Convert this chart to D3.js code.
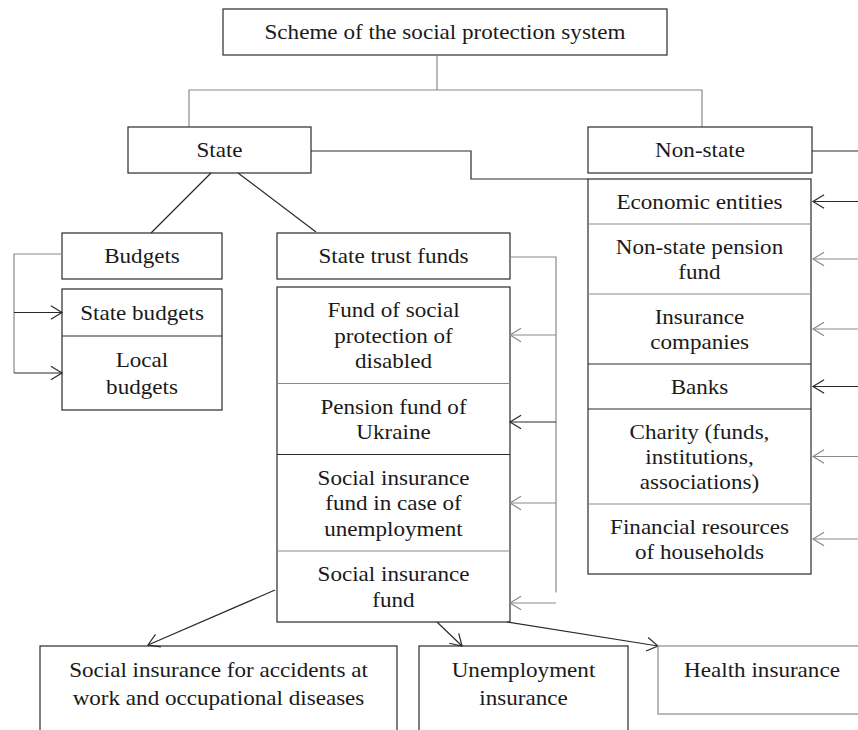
<!DOCTYPE html>
<html>
<head>
<meta charset="utf-8">
<script src="https://cdn.jsdelivr.net/npm/d3@7"></script>
<style>
  body { margin: 0; background: #fff; }
  svg text { font-family: "Liberation Serif", "Times New Roman", serif; fill: #1a1a1a; }
</style>
</head>
<body>
<div id="chart"></div>
<script>
// labels (line breaks as in the scheme)
var title = "Scheme of the social protection system";
var sectors = ["State", "Non-state"];
var budgetHeader = "Budgets";
var budgetTypes = ["State budgets", "Local\nbudgets"];
var trustHeader = "State trust funds";
var trustFunds = [
    "Fund of social\nprotection of\ndisabled",
    "Pension fund of\nUkraine",
    "Social insurance\nfund in case of\nunemployment",
    "Social insurance\nfund"
];
var nonStateSources = [
    "Economic entities",
    "Non-state pension\nfund",
    "Insurance\ncompanies",
    "Banks",
    "Charity (funds,\ninstitutions,\nassociations)",
    "Financial resources\nof households"
];
var insuranceTypes = [
    "Social insurance for accidents at\nwork and occupational diseases",
    "Unemployment\ninsurance",
    "Health insurance"
];

var W = 858, H = 730;
var dark = "#2a2a2a", grey = "#8a8a8a", fs = 21, stretch = 1.1;

var svg = d3.select("#chart").append("svg")
    .attr("width", W)
    .attr("height", H);

svg.append("rect").attr("width", W).attr("height", H).attr("fill", "#fff");

function line(pts, col, w) {
    svg.append("path")
        .attr("d", d3.line()(pts))
        .attr("fill", "none")
        .attr("stroke", col || grey)
        .attr("stroke-width", w || 1.2);
}

// open "V" arrow head at tip, pointing along angle a (radians)
function head(tip, a, col) {
    var L = 13, s = 0.55;
    var p1 = [tip[0] - L * Math.cos(a - s), tip[1] - L * Math.sin(a - s)];
    var p2 = [tip[0] - L * Math.cos(a + s), tip[1] - L * Math.sin(a + s)];
    line([p1, tip, p2], col || grey, 1.2);
}

function arrow(from, to, col) {
    line([from, to], col);
    head(to, Math.atan2(to[1] - from[1], to[0] - from[0]), col);
}

// the scan's serif type is a bit wider than Liberation Serif, so stretch it
function label(txt, cx, top, lh) {
    var rows = txt.split("\n");
    var t = svg.append("text")
        .attr("text-anchor", "middle")
        .attr("font-size", fs)
        .attr("transform", "translate(" + cx + ",0) scale(" + stretch + ",1)");
    t.selectAll("tspan").data(rows).join("tspan")
        .attr("x", 0)
        .attr("y", function(d, i) { return top + i * lh; })
        .attr("dy", "0.35em")
        .text(function(d) { return d; });
}

function box(x0, y0, x1, y1, txt, col, textY, lh) {
    svg.append("rect")
        .attr("x", x0).attr("y", y0)
        .attr("width", x1 - x0).attr("height", y1 - y0)
        .attr("fill", "none")
        .attr("stroke", col || dark)
        .attr("stroke-width", 1.2);
    if (txt) {
        var n = txt.split("\n").length;
        var ty = textY != null ? textY : (y0 + y1) / 2 - (n - 1) * (lh || 26) / 2;
        label(txt, (x0 + x1) / 2, ty, lh || 26);
    }
}

// stacked list: rows sized by line count
function stack(labels, x0, x1, y0, pad, lh, rules, col) {
    var hts = labels.map(function(d) { return pad + d.split("\n").length * lh; });
    var ys = [y0].concat(Array.from(d3.cumsum(hts), function(v) { return y0 + v; }));
    box(x0, y0, x1, ys[ys.length - 1], null, col);
    labels.forEach(function(d, i) {
        if (i > 0) line([[x0, ys[i]], [x1, ys[i]]], rules[i - 1] ? dark : grey);
        var n = d.split("\n").length;
        label(d, (x0 + x1) / 2, (ys[i] + ys[i + 1]) / 2 - (n - 1) * lh / 2, lh);
    });
    return ys.slice(0, -1).map(function(y, i) { return (y + ys[i + 1]) / 2; });
}

// title and the two sectors
box(223, 9, 667, 55, title);
line([[437, 55], [437, 90]]);
line([[189, 127], [189, 90], [702, 90], [702, 127]]);
box(128, 127, 311, 173, sectors[0]);
box(588, 127, 812, 173, sectors[1]);
line([[812, 151], [858, 151]], dark);
line([[311, 151], [471, 151], [471, 179], [588, 179]], dark);

// state branch
line([[211, 173], [151, 233]], dark);
line([[238, 173], [316, 232]], dark);
box(62, 233, 222, 279, budgetHeader);
box(277, 233, 510, 279, trustHeader);

var bMid = stack(budgetTypes, 62, 222, 289, 20, 27, [true], dark);
line([[62, 254], [14, 254], [14, bMid[1]]]);
arrow([14, bMid[0]], [62, bMid[0]], dark);
arrow([14, bMid[1]], [62, bMid[1]], dark);

var fMid = stack(trustFunds, 277, 510, 287, 20, 25.5, [false, true, false], dark);
line([[510, 257], [556, 257], [556, fMid[3] + 6]]);
[335, 422, 503, 603].forEach(function(y, i) {
    arrow([556, y], [510, y], i === 1 ? dark : grey);
});

// non-state sources
var nMid = stack(nonStateSources, 588, 811, 179, 20, 25, [false, false, true, true, false], dark);
nMid.forEach(function(y, i) {
    arrow([858, y], [813, y], (i === 0 || i === 3) ? dark : grey);
});

// insurance types fed by the social insurance fund
arrow([275, 590], [148, 645], dark);
arrow([437, 622], [462, 646], dark);
arrow([507, 622], [658, 646], dark);
box(40, 646, 397, 760, insuranceTypes[0], dark, 670, 28);
box(419, 646, 628, 760, insuranceTypes[1], dark, 670, 28);
box(658, 646, 866, 714, insuranceTypes[2], grey, 670, 28);
</script>
</body>
</html>
